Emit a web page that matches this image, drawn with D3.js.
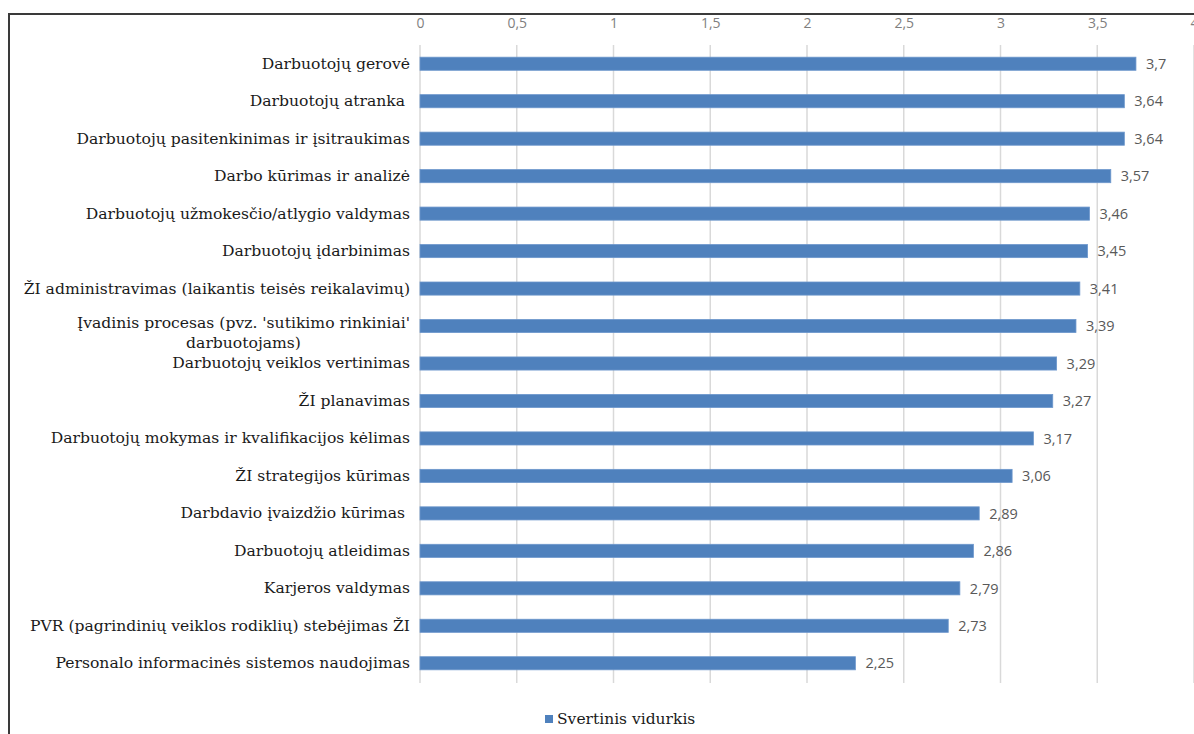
<!DOCTYPE html>
<html>
<head>
<meta charset="utf-8">
<script src="https://cdn.jsdelivr.net/npm/d3@7"></script>
<style>
  html, body { margin: 0; padding: 0; background: #fff; }
  svg { display: block; }
</style>
</head>
<body>
<svg id="chart" width="1194" height="734"></svg>
<script>
// Categories (top to bottom) and weighted averages
const categories = [
  ["Darbuotojų gerovė"],
  ["Darbuotojų atranka\u00a0"],
  ["Darbuotojų pasitenkinimas ir įsitraukimas"],
  ["Darbo kūrimas ir analizė"],
  ["Darbuotojų užmokesčio/atlygio valdymas"],
  ["Darbuotojų įdarbinimas"],
  ["ŽI administravimas (laikantis teisės reikalavimų)"],
  ["Įvadinis procesas (pvz. 'sutikimo rinkiniai'", "darbuotojams)"],
  ["Darbuotojų veiklos vertinimas"],
  ["ŽI planavimas"],
  ["Darbuotojų mokymas ir kvalifikacijos kėlimas"],
  ["ŽI strategijos kūrimas"],
  ["Darbdavio įvaizdžio kūrimas\u00a0"],
  ["Darbuotojų atleidimas"],
  ["Karjeros valdymas"],
  ["PVR (pagrindinių veiklos rodiklių) stebėjimas ŽI"],
  ["Personalo informacinės sistemos naudojimas"]
];
const values = [3.7, 3.64, 3.64, 3.57, 3.46, 3.45, 3.41, 3.39, 3.29, 3.27, 3.17, 3.06, 2.89, 2.86, 2.79, 2.73, 2.25];
const tickValues = [0, 0.5, 1, 1.5, 2, 2.5, 3, 3.5, 4];
const seriesName = "Svertinis vidurkis";

const barColor = "#4f81bd";
const serif = "'DejaVu Serif', 'Liberation Serif', serif";
const sans = "'Open Sans', 'Noto Sans', sans-serif";
const fmt = v => String(v).replace(".", ",");

const svg = d3.select("#chart");

// Outer frame (left and top edges visible)
svg.append("path")
  .attr("d", "M9,734 L9,14 L1194,14")
  .attr("fill", "none")
  .attr("stroke", "#3a3a3a")
  .attr("stroke-width", 2);

const x = d3.scaleLinear().domain([0, 4]).range([420, 1194]);
const idx = d3.range(categories.length);
const y = d3.scaleBand().domain(idx).range([45, 682]).paddingInner(0.65).paddingOuter(0.325);

// Vertical gridlines
svg.append("g")
  .selectAll("line")
  .data(tickValues)
  .join("line")
  .attr("x1", d => x(d)).attr("x2", d => x(d))
  .attr("y1", 45).attr("y2", 683)
  .attr("stroke", "#d9d9d9")
  .attr("stroke-width", 1.5);

// Top axis labels
const axis = d3.axisTop(x).tickValues(tickValues).tickFormat(fmt).tickSize(0).tickPadding(0);
const gAxis = svg.append("g").attr("transform", "translate(0,28)").call(axis);
gAxis.select(".domain").remove();
gAxis.selectAll("text")
  .attr("fill", "#7f7f7f")
  .style("font-family", sans)
  .style("font-size", "14px");

// Bars
svg.append("g")
  .selectAll("rect")
  .data(values)
  .join("rect")
  .attr("x", x(0))
  .attr("y", (d, i) => y(i))
  .attr("width", d => x(d) - x(0))
  .attr("height", y.bandwidth())
  .attr("fill", barColor)
  .attr("stroke", "#6d97cc")
  .attr("stroke-width", 0.8);

// Value labels
svg.append("g")
  .selectAll("text")
  .data(values)
  .join("text")
  .attr("x", d => x(d) + 10)
  .attr("y", (d, i) => y(i) + y.bandwidth() / 2)
  .attr("dy", "0.36em")
  .attr("fill", "#595959")
  .style("font-family", sans)
  .style("font-size", "14.5px")
  .text(fmt);

// Category labels (wrapped lines are centred within a right-aligned block)
const labelRight = 410;
const gLab = svg.append("g")
  .style("font-family", serif)
  .style("font-size", "15.6px")
  .attr("fill", "#1a1a1a");

categories.forEach((lines, i) => {
  const cy = y(i) + y.bandwidth() / 2;
  if (lines.length === 1) {
    gLab.append("text")
      .attr("x", labelRight)
      .attr("y", cy)
      .attr("dy", "0.32em")
      .attr("text-anchor", "end")
      .text(lines[0]);
  } else {
    const t = gLab.append("text").attr("text-anchor", "middle");
    const tmp = gLab.append("text").text(lines[0]);
    const w = tmp.node().getComputedTextLength();
    tmp.remove();
    const cx = labelRight - w / 2;
    lines.forEach((ln, k) => {
      t.append("tspan")
        .attr("x", cx)
        .attr("y", cy - 3 + k * 20)
        .attr("dy", "0.32em")
        .text(ln);
    });
  }
});

// Legend
const gLeg = svg.append("g").attr("transform", "translate(545,719)");
gLeg.append("rect")
  .attr("x", 0).attr("y", -4)
  .attr("width", 8).attr("height", 8)
  .attr("fill", barColor);
gLeg.append("text")
  .attr("x", 12)
  .attr("y", 0)
  .attr("dy", "0.32em")
  .attr("fill", "#1a1a1a")
  .style("font-family", serif)
  .style("font-size", "15.5px")
  .text(seriesName);
</script>
</body>
</html>
